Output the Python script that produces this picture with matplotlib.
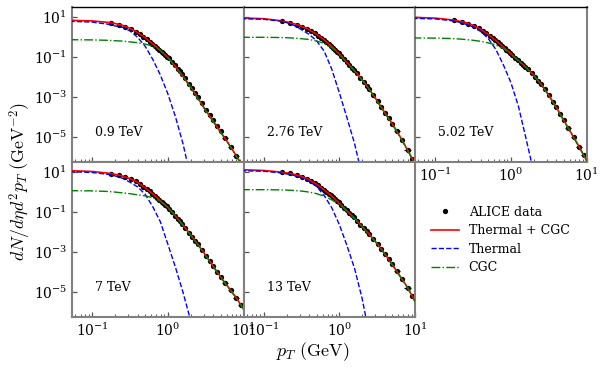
import numpy as np
import matplotlib
matplotlib.use("Agg")
import matplotlib.pyplot as plt
from matplotlib.ticker import NullLocator

plt.rcParams['font.family'] = ['DejaVu Serif']
plt.rcParams['mathtext.fontset'] = 'dejavuserif'

energies = ['0.9 TeV', '2.76 TeV', '5.02 TeV', '7 TeV', '13 TeV']

# model curves: pT knots and log10(dN/deta d2pT)
curve_pt = [0.05, 0.1, 0.1585, 0.1995, 0.2512, 0.3162, 0.3981, 0.5012, 0.631, 0.7943,
            1.0, 1.2589, 1.5849, 1.9953, 2.5119, 3.1623, 3.9811, 5.0119, 6.3096, 7.9433, 10.0]

red_09 = [0.85, 0.82, 0.75, 0.69, 0.60, 0.45, 0.24, -0.02, -0.33, -0.65, -1.0, -1.46, -1.95,
          -2.48, -3.06, -3.65, -4.2, -4.75, -5.3, -5.9, -6.5]
blue_09 = [0.80, 0.76, 0.66, 0.57, 0.50, 0.32, 0.0, -0.45, -1.10, -1.88, -2.83, -3.97, -5.32, -7.0]
green_09 = [-0.12, -0.13, -0.15, -0.17, -0.19, -0.23, -0.27, -0.34, -0.44, -0.66, -1.02, -1.48,
            -1.97, -2.50, -3.08, -3.67, -4.22, -4.77, -5.32, -5.92, -6.52]

red_276 = [0.97, 0.93, 0.84, 0.77, 0.68, 0.56, 0.38, 0.15, -0.13, -0.46, -0.84, -1.25, -1.67,
           -2.12, -2.62, -3.18, -3.76, -4.33, -4.95, -5.62, -6.33]
blue_276 = [0.93, 0.90, 0.82, 0.74, 0.60, 0.38, 0.15, -0.18, -0.70, -1.60, -2.78, -4.02, -5.3, -6.9]
green_276 = [0.0, 0.0, -0.01, -0.02, -0.04, -0.07, -0.11, -0.19, -0.30, -0.52, -0.86, -1.27,
             -1.69, -2.14, -2.64, -3.2, -3.78, -4.35, -4.97, -5.64, -6.35]

red_502 = [1.0, 0.96, 0.88, 0.82, 0.74, 0.60, 0.40, 0.14, -0.16, -0.48, -0.82, -1.16, -1.5,
           -1.88, -2.35, -2.88, -3.5, -4.15, -4.8, -5.45, -6.15]
blue_502 = [0.95, 0.92, 0.84, 0.77, 0.66, 0.52, 0.30, -0.06, -0.6, -1.37, -2.26, -3.45, -5.06, -6.7]
green_502 = [-0.03, -0.04, -0.06, -0.08, -0.11, -0.15, -0.2, -0.28, -0.38, -0.56, -0.84, -1.18,
             -1.52, -1.90, -2.37, -2.9, -3.52, -4.17, -4.82, -5.47, -6.17]

red_7 = [1.08, 1.04, 0.96, 0.90, 0.81, 0.68, 0.50, 0.22, -0.08, -0.42, -0.75, -1.18, -1.64,
         -2.12, -2.62, -3.15, -3.7, -4.25, -4.75, -5.25, -5.83]
blue_7 = [1.03, 0.99, 0.90, 0.82, 0.70, 0.50, 0.27, -0.1, -0.72, -1.47, -2.6, -3.75, -5.0, -6.4]
green_7 = [0.08, 0.07, 0.04, 0.01, -0.03, -0.07, -0.13, -0.18, -0.27, -0.45, -0.78, -1.2, -1.66,
           -2.14, -2.64, -3.17, -3.72, -4.27, -4.77, -5.27, -5.85]

red_13 = [1.13, 1.09, 1.02, 0.97, 0.90, 0.80, 0.63, 0.40, 0.12, -0.20, -0.55, -0.92, -1.3,
          -1.7, -2.12, -2.57, -3.07, -3.62, -4.18, -4.75, -5.45]
blue_13 = [1.08, 1.05, 0.98, 0.92, 0.84, 0.72, 0.55, 0.29, -0.17, -0.78, -1.62, -2.66, -3.8, -5.3, -7.2]
green_13 = [0.13, 0.13, 0.12, 0.11, 0.09, 0.06, 0.01, -0.07, -0.2, -0.38, -0.6, -0.95, -1.32,
            -1.72, -2.14, -2.59, -3.09, -3.64, -4.2, -4.77, -5.47]

# ALICE data points (log10 values)
data_pt = [0.175, 0.225, 0.275, 0.325, 0.375, 0.425, 0.475, 0.525, 0.575, 0.625, 0.675, 0.725,
           0.775, 0.825, 0.875, 0.925, 0.975, 1.05, 1.15, 1.25, 1.35, 1.45, 1.55, 1.7, 1.9, 2.1,
           2.3, 2.5, 2.8, 3.2, 3.6, 4.0, 4.5, 5.0, 5.75, 6.75, 8.0, 9.25]
data_pt_halfwidth = [0]*32 + [0.25, 0.25, 0.5, 0.5, 0.75, 0.75]

data_09 = [0.72, 0.64, 0.54, 0.42, 0.29, 0.17, 0.04, -0.08, -0.21, -0.32, -0.42, -0.52, -0.61,
           -0.71, -0.80, -0.88, -0.96, -1.05, -1.23, -1.40, -1.56, -1.71, -1.85, -2.06, -2.32,
           -2.56, -2.79, -3.0, -3.29, -3.63, -3.91, -4.16, -4.44, -4.69, -5.06, -5.47, -5.92]
data_276 = [0.81, 0.73, 0.63, 0.54, 0.43, 0.32, 0.20, 0.09, -0.02, -0.12, -0.23, -0.33, -0.42,
            -0.52, -0.62, -0.71, -0.80, -0.93, -1.09, -1.24, -1.38, -1.51, -1.63, -1.81, -2.03,
            -2.23, -2.43, -2.61, -2.88, -3.21, -3.50, -3.77, -4.06, -4.33, -4.70, -5.14, -5.64, -6.09]
data_502 = [0.85, 0.78, 0.69, 0.58, 0.45, 0.33, 0.20, 0.08, -0.04, -0.15, -0.25, -0.35, -0.44,
            -0.53, -0.62, -0.70, -0.78, -0.89, -1.03, -1.15, -1.26, -1.37, -1.47, -1.61, -1.80,
            -1.98, -2.17, -2.34, -2.60, -2.91, -3.23, -3.51, -3.84, -4.14, -4.54, -4.99, -5.47, -5.91]
data_7 = [0.93, 0.86, 0.76, 0.66, 0.55, 0.42, 0.28, 0.16, 0.04, -0.07, -0.18, -0.28, -0.38,
          -0.47, -0.56, -0.64, -0.71, -0.84, -1.01, -1.17, -1.32, -1.46, -1.59, -1.78, -2.02,
          -2.23, -2.43, -2.61, -2.87, -3.18, -3.46, -3.71, -3.99, -4.24, -4.55, -4.90, -5.27, -5.63]
data_13 = [1.00, 0.94, 0.86, 0.78, 0.67, 0.57, 0.45, 0.34, 0.23, 0.13, 0.03, -0.07, -0.16,
           -0.26, -0.35, -0.43, -0.51, -0.63, -0.78, -0.91, -1.03, -1.15, -1.26, -1.42, -1.62,
           -1.79, -1.96, -2.11, -2.33, -2.60, -2.85, -3.08, -3.36, -3.61, -3.96, -4.35, -4.77, -5.21]

ytick_vals = [1e1, 1e-1, 1e-3, 1e-5]

panels = [
    (energies[0], red_09, blue_09, green_09, data_09),
    (energies[1], red_276, blue_276, green_276, data_276),
    (energies[2], red_502, blue_502, green_502, data_502),
    (energies[3], red_7, blue_7, green_7, data_7),
    (energies[4], red_13, blue_13, green_13, data_13),
]

fig, axes = plt.subplots(2, 3, sharex=True, sharey=True, figsize=(6, 3.75), dpi=100)
fig.subplots_adjust(left=0.12, right=0.9775, top=0.9805, bottom=0.154, wspace=0, hspace=0)

spine_gray = '#808080'
cp = np.array(curve_pt)
for i, (lab, red, blue, green, dat) in enumerate(panels):
    ax = axes.flat[i]
    n = len(dat)
    pt = np.array(data_pt[:n])
    ax.errorbar(pt, 10**np.array(dat), xerr=np.array(data_pt_halfwidth[:n]), fmt='none',
                ecolor='k', elinewidth=0.9, capsize=0, zorder=2)
    ax.plot(pt, 10**np.array(dat), 'o', color='k', ms=3.8, mew=0, zorder=2,
            label='ALICE data')
    ax.plot(cp, 10**np.array(red), '-', color='#ff0000', lw=1.2, zorder=3,
            label='Thermal + CGC')
    ax.plot(cp[:len(blue)], 10**np.array(blue), '--', color='#0000ff', lw=1.0, zorder=4,
            label='Thermal')
    ax.plot(cp, 10**np.array(green), '-.', color='#008000', lw=1.0, zorder=4,
            label='CGC')
    ax.text(0.135, 0.19, lab, transform=ax.transAxes, fontsize=9, va='center', ha='left')

for ax in axes.flat:
    ax.set_xscale('log')
    ax.set_yscale('log')
    for s in ax.spines.values():
        s.set_color(spine_gray)
        s.set_linewidth(1.5)
    ax.tick_params(which='both', direction='in', top=False, right=False,
                   color='#555555', labelsize=10)
    ax.tick_params(which='major', length=3.5, width=0.9)
    ax.tick_params(which='minor', length=2, width=0.7)
for ax in axes[0]:
    ax.spines['top'].set_color('black')
    ax.spines['top'].set_linewidth(1.0)

ax0 = axes[0, 0]
ax0.set_xlim(0.054, 10)
ax0.set_ylim(10**-6.25, 10**1.5)
ax0.set_yticks(ytick_vals)
ax0.yaxis.set_minor_locator(NullLocator())

handles, labels = axes[0, 0].get_legend_handles_labels()
axes[1, 2].remove()
axes[0, 2].xaxis.set_tick_params(which='both', labelbottom=True)

fig.legend(handles, labels, loc='center', bbox_to_anchor=(0.834, 0.36), frameon=False,
           fontsize=9, numpoints=1, handlelength=2.2, labelspacing=0.45, handletextpad=0.8)

fig.text(0.522, 0.062, r'$p_T\ (\mathrm{GeV})$', ha='center', va='center', fontsize=13,
         math_fontfamily='cm')
fig.text(0.034, 0.515, r'$dN/d\eta d^2p_T\ (\mathrm{GeV}^{-2})$', ha='center', va='center',
         rotation=90, fontsize=12.8, math_fontfamily='cm')

fig.savefig('out.png', dpi=100)
